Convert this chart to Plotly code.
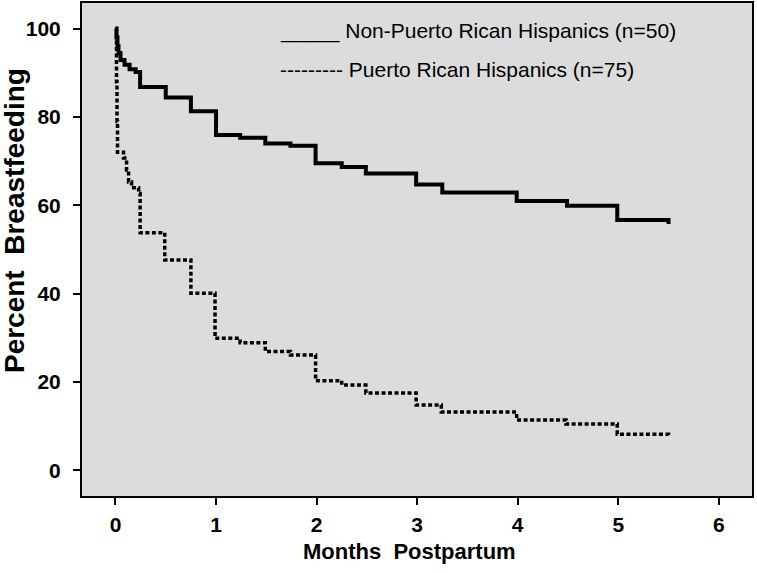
import plotly.graph_objects as go

# Kaplan-Meier style survival data (months postpartum, percent breastfeeding)
non_pr_months = [0, 0.01, 0.02, 0.03, 0.05, 0.09, 0.14, 0.20, 0.245, 0.50, 0.75, 1.00, 1.24, 1.49, 1.74,
                 1.99, 2.25, 2.49, 2.99, 3.25, 3.99, 4.49, 4.99, 5.50]
non_pr_pct = [100, 98, 96, 94.5, 92.9, 91.8, 90.8, 90.2, 86.8, 84.4, 81.3, 75.9, 75.3, 74.0, 73.5,
              69.5, 68.7, 67.2, 64.7, 62.9, 61.0, 59.9, 56.7, 55.8]

pr_months = [0, 0.01, 0.015, 0.02, 0.08, 0.11, 0.13, 0.16, 0.23, 0.245, 0.49, 0.75, 0.99, 1.24, 1.49,
             1.74, 1.99, 2.25, 2.49, 2.99, 3.24, 3.99, 4.48, 4.99, 5.50]
pr_pct = [100, 88, 79, 72, 70.7, 68, 65.3, 64, 62.7, 53.8, 47.6, 40.1, 29.9, 28.9, 26.9,
          26.1, 20.3, 19.3, 17.5, 14.8, 13.2, 11.4, 10.5, 8.2, 7.8]

x_ticks = [0, 1, 2, 3, 4, 5, 6]
y_ticks = [0, 20, 40, 60, 80, 100]

legend_labels = ["Non-Puerto Rican Hispanics (n=50)", "Puerto Rican Hispanics (n=75)"]
x_title = "Months\u00a0\u00a0Postpartum"
y_title = "Percent\u00a0\u00a0Breastfeeding"

FONT = "Arial, 'Liberation Sans', sans-serif"

fig = go.Figure()
fig.add_trace(go.Scatter(x=pr_months, y=pr_pct, mode="lines", line_shape="hv",
                         line=dict(color="black", width=3.5, dash="4px,2.5px"),
                         name=legend_labels[1], showlegend=False))
fig.add_trace(go.Scatter(x=non_pr_months, y=non_pr_pct, mode="lines", line_shape="hv",
                         line=dict(color="black", width=4),
                         name=legend_labels[0], showlegend=False))

W, H = 757, 573
L, R, T, B = 82, 4.5, 3, 77
pw, ph = W - L - R, H - T - B


def px_x(x):
    return (x - L) / pw


def px_y(y):
    return (H - B - y) / ph


fig.update_layout(
    width=W, height=H,
    margin=dict(l=L, r=R, t=T, b=B, autoexpand=False),
    paper_bgcolor="white", plot_bgcolor="#dcdcdc",
    font=dict(family=FONT, color="black"),
    showlegend=False,
    xaxis=dict(range=[-0.333, 6.33], tickvals=x_ticks, ticks="outside", ticklen=7, tickwidth=2,
               tickcolor="black", showline=True, linecolor="black", linewidth=2, mirror=True,
               showgrid=False, zeroline=False, ticklabelstandoff=2, automargin=False,
               tickfont=dict(family=FONT, size=21, color="black", weight="bold")),
    yaxis=dict(range=[-5.8, 105.8], tickvals=y_ticks, ticks="outside", ticklen=7, tickwidth=2,
               tickcolor="black", showline=True, linecolor="black", linewidth=2, mirror=True,
               showgrid=False, zeroline=False, ticklabelstandoff=8, automargin=False,
               tickfont=dict(family=FONT, size=21, color="black", weight="bold")),
    annotations=[
        dict(xref="paper", yref="paper", x=px_x(278), y=px_y(31), xanchor="left", yanchor="middle",
             text="_____ " + legend_labels[0], showarrow=False,
             font=dict(family=FONT, size=21, color="black")),
        dict(xref="paper", yref="paper", x=px_x(278), y=px_y(70), xanchor="left", yanchor="middle",
             text="--------- " + legend_labels[1], showarrow=False,
             font=dict(family=FONT, size=21, color="black")),
        dict(xref="paper", yref="paper", x=px_x(410), y=px_y(551), xanchor="center", yanchor="middle",
             text=x_title, showarrow=False,
             font=dict(family=FONT, size=22, color="black", weight="bold")),
        dict(xref="paper", yref="paper", x=px_x(14), y=px_y(221), xanchor="center", yanchor="middle",
             text=y_title, textangle=-90, showarrow=False,
             font=dict(family=FONT, size=28, color="black", weight="bold")),
    ],
)

fig.write_html("out.html", config={"displayModeBar": False},
               post_script="document.body.style.margin='0';")
